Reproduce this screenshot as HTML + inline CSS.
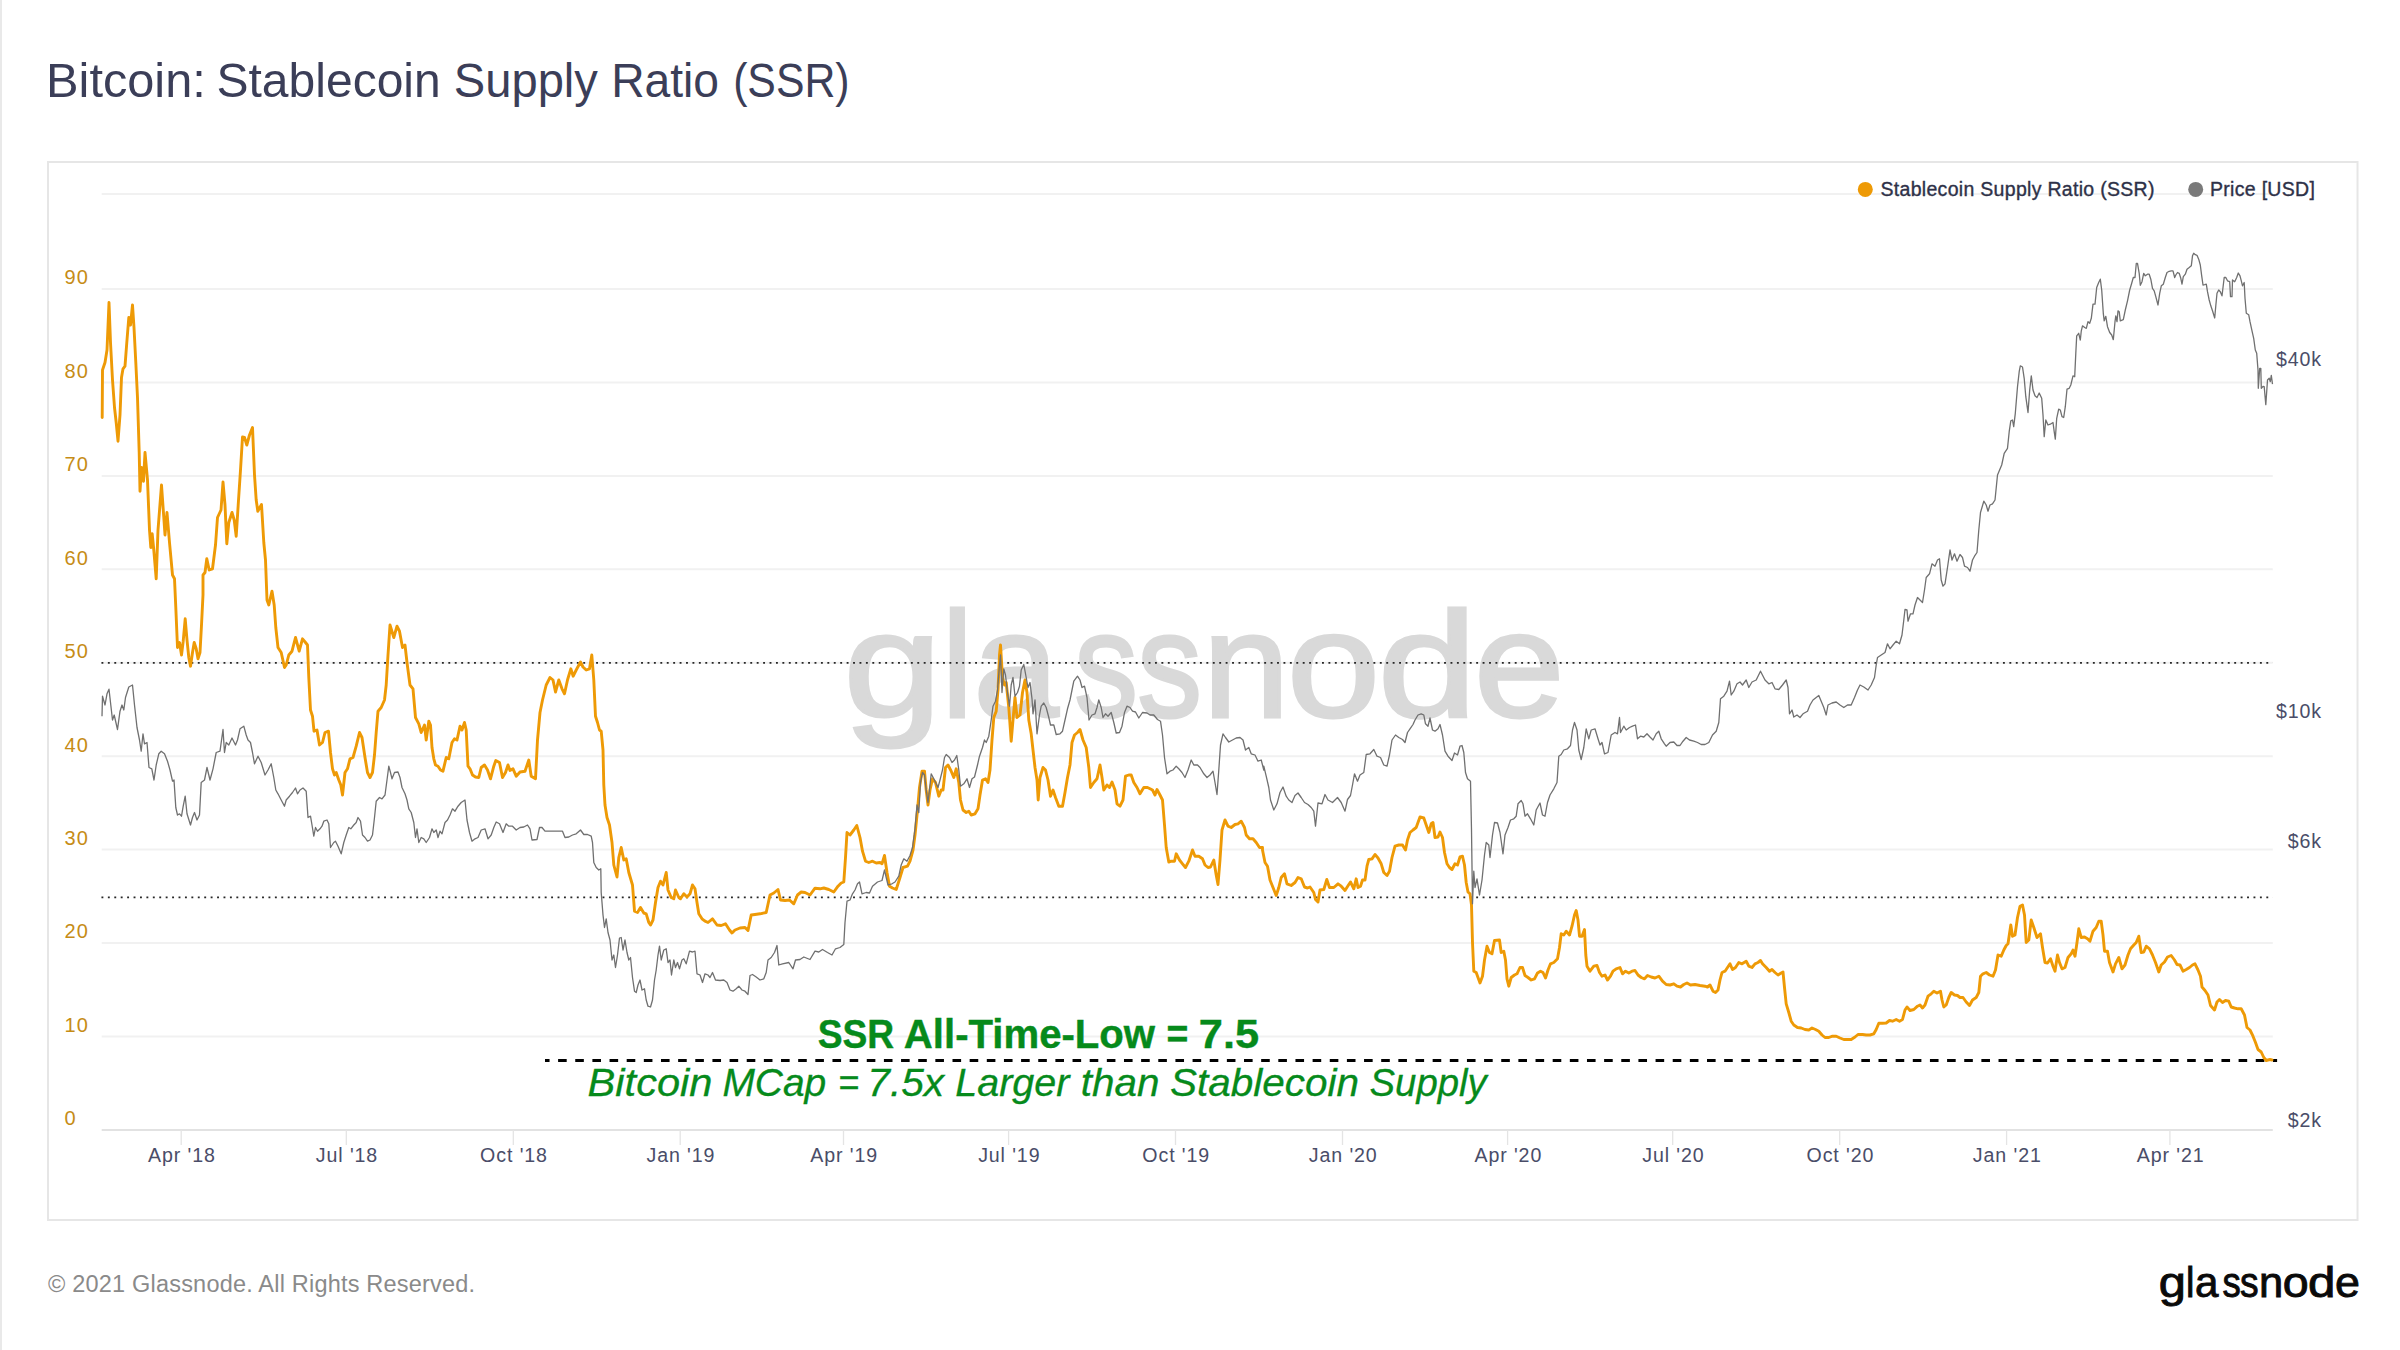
<!DOCTYPE html>
<html lang="en"><head><meta charset="utf-8"><title>Bitcoin: Stablecoin Supply Ratio (SSR)</title>
<style>
html,body{margin:0;padding:0;background:#fff;}
body{width:2400px;height:1350px;overflow:hidden;position:relative;font-family:"Liberation Sans", sans-serif;}
svg{position:absolute;left:0;top:0;display:block;}
text{font-family:"Liberation Sans", sans-serif;}
.ax{font-size:19.6px;fill:#4a4d68;letter-spacing:0.9px;}
.ly{font-size:20px;fill:#c68c16;letter-spacing:1.1px;}
.lg{font-size:19.5px;fill:#2e3148;stroke:#2e3148;stroke-width:0.35px;letter-spacing:0.3px;}
</style></head><body>
<svg width="2400" height="1350" viewBox="0 0 2400 1350">
<rect x="0" y="0" width="2400" height="1350" fill="#ffffff"/>
<rect x="0" y="0" width="2" height="1350" fill="#e9e9e9"/>
<text id="title" y="96.9" font-size="48.3" fill="#3b3e58"><tspan x="46.12" textLength="159.71" lengthAdjust="spacingAndGlyphs">Bitcoin:</tspan> <tspan x="216.51" textLength="224.22" lengthAdjust="spacingAndGlyphs">Stablecoin</tspan> <tspan x="453.8" textLength="144.07" lengthAdjust="spacingAndGlyphs">Supply</tspan> <tspan x="611.17" textLength="107.9" lengthAdjust="spacingAndGlyphs">Ratio</tspan> <tspan x="733.14" textLength="116.46" lengthAdjust="spacingAndGlyphs">(SSR)</tspan></text>
<rect x="48" y="162" width="2309.5" height="1058" fill="#ffffff" stroke="#e6e6e6" stroke-width="2"/>

<line x1="101.7" x2="2272.8" y1="1036.5" y2="1036.5" stroke="#f1f1f1" stroke-width="2"/>
<line x1="101.7" x2="2272.8" y1="943.1" y2="943.1" stroke="#f1f1f1" stroke-width="2"/>
<line x1="101.7" x2="2272.8" y1="849.6" y2="849.6" stroke="#f1f1f1" stroke-width="2"/>
<line x1="101.7" x2="2272.8" y1="756.2" y2="756.2" stroke="#f1f1f1" stroke-width="2"/>
<line x1="101.7" x2="2272.8" y1="662.8" y2="662.8" stroke="#f1f1f1" stroke-width="2"/>
<line x1="101.7" x2="2272.8" y1="569.3" y2="569.3" stroke="#f1f1f1" stroke-width="2"/>
<line x1="101.7" x2="2272.8" y1="475.9" y2="475.9" stroke="#f1f1f1" stroke-width="2"/>
<line x1="101.7" x2="2272.8" y1="382.4" y2="382.4" stroke="#f1f1f1" stroke-width="2"/>
<line x1="101.7" x2="2272.8" y1="289.0" y2="289.0" stroke="#f1f1f1" stroke-width="2"/>
<line x1="101.7" x2="2272.8" y1="193.9" y2="193.9" stroke="#f1f1f1" stroke-width="2"/>
<line x1="101.7" x2="2272.8" y1="1130.0" y2="1130.0" stroke="#e2e2e2" stroke-width="2"/>
<line x1="181.2" x2="181.2" y1="1130.0" y2="1145.0" stroke="#e4e4e4" stroke-width="1.3"/>
<text class="ax" x="181.9" y="1161.5" text-anchor="middle">Apr '18</text>
<line x1="346.3" x2="346.3" y1="1130.0" y2="1145.0" stroke="#e4e4e4" stroke-width="1.3"/>
<text class="ax" x="347.0" y="1161.5" text-anchor="middle">Jul '18</text>
<line x1="513.3" x2="513.3" y1="1130.0" y2="1145.0" stroke="#e4e4e4" stroke-width="1.3"/>
<text class="ax" x="514.0" y="1161.5" text-anchor="middle">Oct '18</text>
<line x1="680.2" x2="680.2" y1="1130.0" y2="1145.0" stroke="#e4e4e4" stroke-width="1.3"/>
<text class="ax" x="680.9" y="1161.5" text-anchor="middle">Jan '19</text>
<line x1="843.5" x2="843.5" y1="1130.0" y2="1145.0" stroke="#e4e4e4" stroke-width="1.3"/>
<text class="ax" x="844.2" y="1161.5" text-anchor="middle">Apr '19</text>
<line x1="1008.6" x2="1008.6" y1="1130.0" y2="1145.0" stroke="#e4e4e4" stroke-width="1.3"/>
<text class="ax" x="1009.3" y="1161.5" text-anchor="middle">Jul '19</text>
<line x1="1175.5" x2="1175.5" y1="1130.0" y2="1145.0" stroke="#e4e4e4" stroke-width="1.3"/>
<text class="ax" x="1176.2" y="1161.5" text-anchor="middle">Oct '19</text>
<line x1="1342.5" x2="1342.5" y1="1130.0" y2="1145.0" stroke="#e4e4e4" stroke-width="1.3"/>
<text class="ax" x="1343.2" y="1161.5" text-anchor="middle">Jan '20</text>
<line x1="1507.6" x2="1507.6" y1="1130.0" y2="1145.0" stroke="#e4e4e4" stroke-width="1.3"/>
<text class="ax" x="1508.3" y="1161.5" text-anchor="middle">Apr '20</text>
<line x1="1672.7" x2="1672.7" y1="1130.0" y2="1145.0" stroke="#e4e4e4" stroke-width="1.3"/>
<text class="ax" x="1673.4" y="1161.5" text-anchor="middle">Jul '20</text>
<line x1="1839.7" x2="1839.7" y1="1130.0" y2="1145.0" stroke="#e4e4e4" stroke-width="1.3"/>
<text class="ax" x="1840.4" y="1161.5" text-anchor="middle">Oct '20</text>
<line x1="2006.6" x2="2006.6" y1="1130.0" y2="1145.0" stroke="#e4e4e4" stroke-width="1.3"/>
<text class="ax" x="2007.3" y="1161.5" text-anchor="middle">Jan '21</text>
<line x1="2169.9" x2="2169.9" y1="1130.0" y2="1145.0" stroke="#e4e4e4" stroke-width="1.3"/>
<text class="ax" x="2170.6" y="1161.5" text-anchor="middle">Apr '21</text>
<text class="ly" x="64.5" y="1125.3">0</text>
<text class="ly" x="64.5" y="1031.8">10</text>
<text class="ly" x="64.5" y="938.4">20</text>
<text class="ly" x="64.5" y="844.9">30</text>
<text class="ly" x="64.5" y="751.5">40</text>
<text class="ly" x="64.5" y="658.0">50</text>
<text class="ly" x="64.5" y="564.6">60</text>
<text class="ly" x="64.5" y="471.2">70</text>
<text class="ly" x="64.5" y="377.7">80</text>
<text class="ly" x="64.5" y="284.3">90</text>
<text id="wm" y="716.5" font-size="150" fill="#d9d9d9" stroke="#d9d9d9" stroke-width="3"><tspan x="843.62" textLength="98.1" lengthAdjust="spacingAndGlyphs">g</tspan><tspan x="941.72" textLength="31.17" lengthAdjust="spacingAndGlyphs">l</tspan><tspan x="973.4" textLength="85.11" lengthAdjust="spacingAndGlyphs">a</tspan><tspan x="1074.2" textLength="63.7" lengthAdjust="spacingAndGlyphs">s</tspan><tspan x="1137.27" textLength="64.78" lengthAdjust="spacingAndGlyphs">s</tspan><tspan x="1202.79" textLength="86.68" lengthAdjust="spacingAndGlyphs">n</tspan><tspan x="1287.03" textLength="92.91" lengthAdjust="spacingAndGlyphs">o</tspan><tspan x="1377.76" textLength="99.05" lengthAdjust="spacingAndGlyphs">d</tspan><tspan x="1473.98" textLength="90.52" lengthAdjust="spacingAndGlyphs">e</tspan></text>
<text class="ax" x="2322" y="366.3" text-anchor="end">$40k</text>
<text class="ax" x="2322" y="718.2" text-anchor="end">$10k</text>
<text class="ax" x="2322" y="848.3" text-anchor="end">$6k</text>
<text class="ax" x="2322" y="1127.2" text-anchor="end">$2k</text>
<line x1="101.45" x2="2272.8" y1="662.9" y2="662.9" stroke="#262626" stroke-width="1.9" stroke-dasharray="1.9 4.524"/>
<line x1="101.45" x2="2272.8" y1="897.4" y2="897.4" stroke="#262626" stroke-width="1.9" stroke-dasharray="1.9 4.524"/>
<line x1="545" x2="2277.1" y1="1060.6" y2="1060.6" stroke="#000" stroke-width="3" stroke-dasharray="8.6 8.548" stroke-dashoffset="4.05"/>
<path d="M102.2,417.5 L102.5,370.0 L105.0,362.5 L107.0,350.0 L109.0,302.5 L110.5,342.5 L112.5,380.0 L114.5,407.5 L116.2,422.5 L118.0,441.2 L120.0,415.0 L121.5,377.5 L123.0,368.8 L125.0,366.2 L126.8,342.5 L128.8,317.5 L130.5,325.0 L132.5,305.0 L134.0,327.5 L135.8,362.5 L137.5,397.5 L139.2,452.5 L140.0,491.2 L141.5,467.5 L143.5,481.2 L145.0,452.5 L147.5,480.0 L149.5,530.0 L150.8,547.5 L152.2,533.8 L153.8,550.0 L156.2,578.8 L158.0,530.0 L161.5,485.0 L163.8,517.5 L165.0,535.0 L167.0,512.5 L169.5,542.5 L172.5,575.0 L174.5,578.8 L175.8,607.5 L177.5,647.5 L179.5,642.5 L181.5,655.0 L183.2,641.2 L185.2,618.8 L187.0,640.0 L188.8,657.5 L190.5,666.2 L192.5,652.5 L194.2,642.5 L196.2,648.8 L198.0,658.8 L200.0,652.5 L201.5,625.0 L203.0,595.0 L203.0,575.0 L205.0,572.5 L206.8,558.8 L209.2,570.0 L212.5,568.8 L215.5,545.0 L217.5,517.5 L221.0,510.0 L223.0,482.0 L225.0,505.0 L226.8,543.8 L228.8,522.5 L232.0,512.5 L234.2,520.0 L236.2,536.2 L238.2,505.0 L240.5,470.0 L242.5,437.0 L244.5,437.5 L246.8,445.0 L249.5,435.0 L252.5,427.5 L254.5,475.0 L256.2,500.0 L257.8,511.2 L261.5,504.5 L263.8,542.5 L265.5,560.0 L267.0,600.0 L268.8,605.0 L272.0,591.2 L274.2,605.0 L275.8,627.5 L278.0,647.5 L281.2,652.5 L284.5,667.5 L286.2,665.0 L288.8,655.0 L292.0,651.2 L295.5,637.5 L299.2,651.2 L302.5,638.8 L305.5,642.5 L307.5,645.0 L308.8,677.5 L310.5,710.0 L312.5,716.2 L314.0,731.2 L317.0,730.0 L319.5,745.0 L322.5,742.5 L325.0,732.5 L328.5,731.2 L330.5,752.5 L332.5,768.8 L334.5,775.0 L336.2,772.5 L338.8,780.0 L340.8,785.0 L342.5,795.0 L345.0,772.5 L347.5,768.8 L350.0,758.8 L353.0,757.5 L356.2,746.2 L359.5,732.5 L362.0,737.5 L365.0,757.5 L367.5,772.5 L370.0,777.5 L372.5,772.5 L374.5,755.0 L376.2,732.5 L378.0,711.2 L381.2,707.5 L384.5,700.0 L386.2,685.0 L388.0,655.0 L390.0,625.0 L393.8,637.5 L397.0,626.2 L399.5,631.2 L402.5,647.5 L405.0,645.0 L407.0,662.5 L410.0,685.0 L413.0,688.8 L415.5,717.5 L418.8,723.8 L421.2,732.5 L424.5,725.0 L426.2,740.0 L428.8,721.2 L430.5,725.0 L432.0,747.5 L433.8,758.8 L435.5,765.0 L438.0,766.2 L440.5,770.0 L443.0,771.2 L446.2,757.5 L448.8,758.8 L452.0,742.5 L454.5,738.8 L457.0,740.0 L460.0,726.2 L462.0,730.0 L464.5,722.5 L466.2,730.0 L468.0,766.2 L470.0,768.8 L472.5,775.0 L475.5,777.0 L478.8,777.5 L481.2,767.5 L484.5,765.0 L487.5,770.0 L490.5,778.8 L493.8,766.2 L495.8,760.5 L499.5,762.5 L502.5,777.5 L505.5,772.5 L508.0,765.0 L510.0,770.5 L513.0,768.8 L516.2,776.2 L520.0,772.0 L525.0,771.2 L528.8,760.0 L531.2,776.2 L535.5,778.8 L537.5,740.0 L540.0,712.5 L542.5,700.0 L546.2,685.0 L550.0,677.5 L553.0,680.0 L555.5,692.0 L558.8,680.0 L562.0,688.8 L564.5,693.8 L567.5,680.0 L570.8,668.8 L573.2,676.2 L576.2,670.0 L580.5,662.0 L583.0,667.0 L586.2,670.0 L589.5,668.8 L591.8,655.0 L593.8,680.0 L595.5,716.2 L597.5,722.5 L599.5,730.0 L601.2,731.2 L603.0,750.0 L603.8,785.0 L605.0,805.0 L607.0,817.5 L609.5,825.0 L612.0,842.5 L613.8,865.0 L617.0,877.0 L618.8,857.5 L621.2,847.5 L623.8,860.0 L626.2,858.8 L628.8,872.5 L632.5,885.0 L634.5,911.2 L637.5,912.5 L640.5,907.5 L643.8,913.0 L646.2,913.8 L648.8,922.5 L650.5,925.0 L653.0,920.0 L655.5,902.5 L658.0,887.5 L660.5,881.2 L663.0,885.0 L666.2,872.5 L668.0,890.0 L671.2,897.5 L673.8,898.8 L675.5,890.0 L678.8,897.5 L680.5,898.8 L683.8,893.8 L687.0,897.0 L690.0,893.8 L692.5,885.0 L695.0,888.8 L697.0,902.5 L698.8,913.8 L702.0,918.8 L705.0,921.2 L708.0,922.5 L712.5,918.8 L717.0,925.0 L721.2,925.5 L725.5,923.8 L729.5,930.0 L732.0,933.0 L735.0,930.0 L740.0,928.0 L745.0,927.5 L748.0,930.5 L751.2,915.0 L755.0,914.5 L760.0,913.8 L766.2,912.5 L770.0,895.0 L773.8,893.0 L778.0,889.5 L780.5,900.0 L785.0,900.5 L789.5,900.0 L793.8,903.8 L797.5,895.0 L801.2,892.0 L805.0,892.5 L810.0,895.0 L815.0,888.2 L820.0,888.8 L823.8,888.0 L828.8,889.5 L833.8,892.0 L838.0,886.2 L841.2,883.0 L843.8,882.0 L845.5,857.5 L847.0,832.5 L850.0,835.0 L853.8,830.0 L856.8,825.5 L860.0,837.5 L862.5,851.2 L865.5,861.2 L868.8,862.5 L872.5,861.2 L876.2,863.0 L880.0,862.5 L882.0,863.8 L884.5,855.5 L887.0,872.5 L889.5,886.2 L892.5,888.0 L896.2,889.5 L900.0,877.5 L903.0,867.5 L907.5,866.2 L910.0,861.2 L913.0,850.0 L915.0,835.0 L917.5,810.0 L919.5,787.5 L922.0,771.2 L924.5,771.2 L926.2,790.0 L928.0,805.0 L930.0,790.0 L932.5,778.8 L935.5,782.5 L938.8,796.2 L941.2,790.0 L943.0,790.0 L945.5,767.5 L948.0,765.0 L951.2,771.2 L953.8,777.5 L956.2,768.8 L958.8,782.5 L960.5,800.0 L963.0,810.0 L966.2,812.5 L968.8,811.2 L971.2,815.0 L975.0,813.8 L978.0,808.8 L980.0,795.0 L982.5,780.0 L985.5,778.8 L988.0,782.5 L990.0,770.0 L992.0,740.0 L993.8,717.5 L996.2,711.2 L998.0,690.0 L999.5,655.0 L1000.5,645.0 L1002.5,677.5 L1004.5,685.0 L1006.2,682.5 L1008.8,707.5 L1011.2,741.2 L1013.0,720.0 L1015.0,697.5 L1017.0,717.5 L1020.0,715.0 L1022.5,692.5 L1025.0,680.0 L1027.0,692.5 L1028.8,720.0 L1031.2,733.8 L1033.0,750.0 L1035.0,767.5 L1037.0,780.0 L1038.2,800.0 L1040.0,777.5 L1043.0,767.5 L1045.5,770.0 L1048.0,780.0 L1050.5,796.2 L1053.0,790.0 L1055.5,797.5 L1058.8,806.2 L1062.5,806.2 L1065.0,792.5 L1067.5,777.5 L1070.0,765.0 L1072.0,742.5 L1074.5,735.0 L1077.5,732.5 L1080.0,729.5 L1083.0,740.0 L1086.2,747.5 L1088.8,767.5 L1090.5,787.5 L1093.8,782.5 L1097.0,778.8 L1100.0,765.0 L1102.0,777.5 L1103.8,790.0 L1107.0,785.0 L1109.5,787.5 L1112.0,782.0 L1115.0,790.0 L1117.0,803.8 L1120.0,806.2 L1123.0,800.0 L1125.5,776.2 L1128.8,775.0 L1131.2,775.0 L1133.8,782.5 L1137.0,787.5 L1140.0,793.8 L1143.8,787.5 L1147.5,787.5 L1152.5,790.0 L1155.0,795.0 L1157.0,789.5 L1160.0,795.0 L1162.5,800.0 L1164.5,825.0 L1166.2,847.5 L1168.8,862.0 L1171.2,861.2 L1174.5,861.2 L1176.2,853.8 L1179.5,860.0 L1182.5,863.8 L1185.5,867.5 L1188.8,861.2 L1192.5,850.0 L1195.0,856.2 L1198.8,856.2 L1202.5,858.8 L1205.0,865.0 L1208.0,867.5 L1210.5,867.0 L1213.8,860.0 L1216.2,875.0 L1218.0,884.5 L1220.0,860.0 L1222.0,830.0 L1225.0,820.0 L1228.0,826.2 L1231.2,827.5 L1235.0,824.5 L1238.0,823.8 L1241.2,821.2 L1244.5,827.5 L1246.2,835.0 L1249.5,838.8 L1253.0,838.8 L1256.2,842.5 L1259.5,847.5 L1262.5,847.5 L1262.5,850.0 L1265.0,862.5 L1267.5,866.2 L1270.0,880.0 L1273.0,887.5 L1276.2,895.5 L1278.8,887.5 L1281.2,877.5 L1284.5,873.8 L1287.0,883.8 L1291.2,885.5 L1295.0,882.5 L1298.0,877.5 L1301.2,878.8 L1304.5,887.0 L1307.5,888.0 L1310.0,887.0 L1313.8,892.5 L1315.5,899.5 L1318.0,902.0 L1320.0,890.0 L1323.8,889.5 L1326.8,879.5 L1329.5,887.5 L1333.8,887.5 L1338.0,883.8 L1341.2,886.2 L1345.0,890.5 L1348.8,884.5 L1350.5,882.0 L1353.8,888.8 L1356.2,878.8 L1358.0,887.5 L1360.5,886.2 L1362.5,880.0 L1365.0,880.0 L1367.0,866.2 L1368.8,859.5 L1372.0,858.8 L1375.0,854.5 L1378.0,858.0 L1381.2,863.8 L1383.8,872.5 L1387.0,875.5 L1389.5,871.2 L1392.0,857.5 L1395.0,846.2 L1398.8,845.0 L1402.5,845.0 L1405.5,850.0 L1407.5,840.0 L1410.0,832.5 L1413.0,830.0 L1416.2,827.5 L1418.0,822.5 L1420.0,817.0 L1423.8,818.0 L1426.2,825.0 L1428.8,832.5 L1431.2,823.8 L1433.0,822.5 L1435.0,837.5 L1438.0,837.0 L1440.0,832.0 L1442.5,837.5 L1444.5,852.5 L1447.0,863.8 L1449.5,867.5 L1452.0,869.5 L1455.0,863.8 L1457.5,865.0 L1460.0,857.0 L1462.5,856.2 L1464.5,865.0 L1466.2,882.5 L1468.0,892.0 L1470.0,893.8 L1471.5,905.0 L1472.5,942.5 L1473.8,971.2 L1476.2,972.5 L1478.0,977.5 L1480.0,983.0 L1482.5,976.2 L1484.5,960.0 L1487.0,946.2 L1489.5,952.5 L1492.0,953.8 L1494.5,940.5 L1499.5,940.0 L1501.2,952.5 L1503.8,951.2 L1505.5,960.0 L1507.0,978.8 L1508.8,986.2 L1511.2,977.5 L1514.5,975.0 L1517.0,973.8 L1520.0,967.5 L1522.5,967.5 L1525.0,975.5 L1528.0,977.5 L1531.2,980.0 L1534.5,978.8 L1537.5,973.0 L1540.5,971.2 L1543.0,972.5 L1545.5,978.0 L1548.0,970.0 L1550.5,963.8 L1553.8,962.5 L1557.5,958.8 L1559.5,947.5 L1561.2,933.8 L1563.8,935.0 L1566.2,931.2 L1569.5,935.0 L1572.0,926.2 L1574.5,915.0 L1576.2,910.5 L1578.0,920.0 L1579.5,936.2 L1582.0,936.2 L1584.5,929.5 L1585.8,955.0 L1587.0,966.2 L1590.0,971.2 L1593.8,966.2 L1597.0,965.5 L1599.5,972.5 L1602.0,976.2 L1605.0,975.0 L1607.5,980.0 L1610.5,976.2 L1613.0,971.2 L1616.2,968.8 L1620.0,967.5 L1622.5,973.8 L1625.5,971.2 L1628.8,973.0 L1632.0,971.2 L1635.0,970.5 L1638.0,975.0 L1641.2,977.5 L1644.5,978.8 L1647.5,975.5 L1651.2,977.0 L1655.0,978.0 L1658.8,976.2 L1662.5,981.2 L1666.2,984.5 L1670.0,985.0 L1673.8,983.8 L1677.0,986.2 L1680.5,987.0 L1683.8,984.5 L1687.0,983.0 L1690.5,985.0 L1695.0,984.5 L1700.0,985.5 L1705.0,986.2 L1707.5,987.0 L1710.0,985.0 L1713.0,991.2 L1715.5,992.5 L1718.0,990.0 L1720.0,980.0 L1722.0,972.5 L1725.0,971.2 L1727.5,967.5 L1730.0,963.8 L1732.5,969.5 L1735.5,967.5 L1738.8,962.5 L1742.0,963.8 L1746.2,961.2 L1748.8,966.2 L1752.0,967.5 L1755.0,963.8 L1758.0,962.5 L1760.5,960.5 L1762.5,963.8 L1766.2,967.5 L1769.5,971.2 L1772.0,969.5 L1775.0,972.5 L1778.0,975.0 L1781.2,973.0 L1783.0,972.0 L1784.5,987.5 L1786.2,1003.8 L1788.8,1012.5 L1791.2,1021.2 L1793.8,1025.0 L1797.5,1027.5 L1801.2,1028.0 L1805.0,1029.5 L1808.8,1030.0 L1812.0,1028.0 L1815.5,1029.5 L1818.8,1031.2 L1822.0,1035.0 L1825.0,1037.5 L1828.8,1037.5 L1832.5,1036.2 L1836.2,1036.2 L1840.0,1038.0 L1843.8,1039.5 L1847.5,1039.5 L1851.2,1039.5 L1855.0,1037.0 L1858.0,1034.5 L1862.5,1034.5 L1866.2,1035.0 L1870.0,1035.0 L1873.8,1033.8 L1876.2,1029.5 L1878.8,1023.2 L1882.5,1023.2 L1886.2,1023.0 L1889.5,1020.5 L1892.5,1021.2 L1896.2,1019.5 L1899.5,1021.2 L1902.5,1019.5 L1905.0,1010.0 L1907.0,1007.0 L1910.0,1010.5 L1913.8,1009.5 L1917.5,1006.2 L1920.0,1005.0 L1922.5,1008.0 L1925.0,1005.0 L1928.0,996.2 L1931.2,993.8 L1933.8,991.2 L1937.0,993.0 L1940.5,991.2 L1942.0,1000.0 L1943.8,1007.0 L1946.2,1005.0 L1948.8,997.5 L1951.2,992.5 L1954.5,995.0 L1957.5,995.5 L1960.0,997.5 L1963.0,997.5 L1966.2,1002.0 L1969.5,1005.5 L1972.5,1000.0 L1976.2,997.5 L1978.8,992.5 L1980.5,976.2 L1983.0,973.8 L1986.2,972.5 L1989.5,975.0 L1993.0,976.2 L1995.5,970.0 L1998.0,955.0 L2001.2,956.2 L2003.8,950.0 L2006.2,945.5 L2008.0,943.8 L2010.8,925.0 L2012.5,936.2 L2015.0,935.0 L2017.5,917.5 L2020.0,906.2 L2022.5,905.0 L2024.5,915.0 L2026.2,942.5 L2028.8,940.0 L2031.2,920.0 L2033.8,927.5 L2037.0,937.5 L2040.5,933.8 L2042.5,947.5 L2045.0,962.5 L2047.5,963.0 L2050.5,958.8 L2053.0,966.2 L2055.0,971.2 L2057.5,955.0 L2059.5,962.5 L2062.0,968.8 L2065.0,967.5 L2068.0,957.5 L2071.2,953.8 L2073.0,950.0 L2075.0,956.2 L2077.0,942.5 L2078.8,928.8 L2081.2,937.5 L2084.5,937.0 L2087.5,938.8 L2090.0,941.2 L2093.0,931.2 L2096.2,927.5 L2098.8,921.2 L2101.2,921.2 L2103.0,935.0 L2104.5,951.2 L2107.5,951.2 L2109.5,962.5 L2113.0,972.0 L2115.5,963.8 L2118.8,957.5 L2122.0,968.8 L2125.0,965.0 L2128.0,955.0 L2130.5,948.8 L2133.8,945.0 L2136.2,942.5 L2138.8,936.2 L2141.2,952.5 L2143.8,952.0 L2146.2,946.2 L2149.5,948.8 L2152.5,955.0 L2155.5,962.5 L2158.8,972.0 L2161.2,965.0 L2164.5,962.0 L2167.5,957.0 L2171.2,955.5 L2174.5,960.0 L2177.0,964.5 L2180.0,965.0 L2183.0,971.2 L2186.2,969.5 L2189.5,967.5 L2192.5,965.0 L2195.0,963.8 L2198.0,970.0 L2200.5,976.2 L2202.0,987.0 L2205.0,990.5 L2208.0,995.0 L2210.5,1005.5 L2214.5,1010.0 L2217.0,1002.0 L2219.5,999.5 L2222.5,1002.5 L2225.5,1000.5 L2228.8,1001.2 L2231.2,1007.0 L2234.5,1008.0 L2238.0,1008.8 L2241.2,1008.8 L2244.5,1015.0 L2247.0,1027.5 L2250.0,1030.0 L2253.0,1036.2 L2255.5,1042.5 L2258.0,1049.5 L2261.2,1052.0 L2263.8,1057.5 L2266.2,1060.5 L2270.0,1059.5 L2272.0,1060.0" fill="none" stroke="#ee9a06" stroke-width="2.9" stroke-linejoin="round" stroke-linecap="round"/>
<path d="M102.0,716.2 L102.5,696.2 L105.0,705.0 L107.0,693.8 L109.0,689.2 L110.5,702.5 L112.5,720.0 L114.2,715.0 L117.5,729.5 L120.0,711.2 L122.0,705.0 L123.8,710.0 L125.5,697.5 L128.8,687.0 L132.5,685.0 L134.5,705.0 L137.0,727.5 L139.5,740.0 L141.2,751.2 L143.0,733.8 L144.5,743.8 L147.0,742.5 L149.0,767.5 L151.8,768.8 L154.0,780.0 L156.2,765.0 L158.8,753.8 L161.2,751.2 L164.5,753.8 L167.5,761.2 L170.0,770.0 L172.5,781.2 L174.0,780.0 L175.8,807.5 L177.5,815.0 L179.5,813.8 L181.5,816.2 L183.2,806.2 L185.2,796.2 L187.0,813.8 L190.5,825.0 L192.5,817.5 L194.5,812.5 L197.0,820.0 L199.5,815.0 L201.2,782.5 L204.5,780.0 L207.0,767.5 L210.0,780.0 L213.0,768.8 L216.2,752.5 L220.0,751.2 L223.0,729.5 L224.5,752.5 L226.2,742.5 L228.8,745.0 L232.0,738.0 L235.5,745.0 L237.5,740.0 L240.0,728.8 L243.8,726.2 L246.2,735.0 L248.0,740.0 L250.5,742.5 L252.5,752.5 L254.5,763.8 L258.0,756.2 L261.2,762.5 L265.0,775.0 L268.0,770.0 L271.2,763.8 L273.8,777.5 L275.8,790.0 L278.0,793.8 L281.2,800.0 L284.5,806.2 L286.2,800.0 L289.5,796.2 L292.5,792.5 L295.5,788.0 L297.5,793.8 L300.0,790.0 L303.0,788.0 L306.2,791.2 L308.0,817.5 L310.5,816.2 L312.0,825.0 L313.8,836.2 L315.5,827.5 L317.5,831.2 L320.0,828.8 L322.0,826.2 L323.8,821.2 L327.0,820.0 L328.8,823.8 L330.5,847.5 L333.8,842.5 L335.5,841.2 L338.0,846.2 L341.2,853.8 L343.8,842.5 L346.2,835.0 L348.8,827.5 L350.8,828.8 L353.8,825.0 L356.2,822.5 L358.0,817.5 L360.5,821.2 L362.5,835.0 L365.0,837.5 L367.5,841.2 L370.0,840.0 L372.5,835.0 L374.5,817.5 L376.2,801.2 L379.5,797.5 L382.0,798.8 L385.0,795.0 L387.0,780.0 L388.8,766.2 L390.5,772.5 L392.0,778.8 L394.5,772.5 L398.0,772.0 L400.0,777.5 L402.0,787.5 L405.0,793.8 L407.0,800.0 L408.8,808.8 L411.2,812.5 L413.8,822.5 L415.5,837.5 L417.0,828.8 L418.8,842.5 L421.2,837.5 L423.8,838.8 L426.2,842.5 L429.5,837.5 L432.0,828.8 L433.8,832.5 L436.2,830.0 L438.0,837.5 L440.0,831.2 L442.0,833.8 L445.0,822.5 L447.5,820.0 L450.0,815.0 L452.5,808.8 L455.0,811.2 L458.0,806.2 L461.2,802.5 L465.0,800.0 L467.0,820.0 L469.5,832.5 L472.0,841.2 L475.0,838.8 L478.0,837.5 L481.2,830.0 L485.0,828.8 L488.0,838.8 L491.2,835.0 L493.8,827.5 L496.2,822.0 L499.5,823.8 L503.0,832.5 L506.2,823.8 L508.8,826.2 L512.5,826.2 L516.2,830.0 L520.0,827.5 L523.8,827.0 L527.5,825.0 L530.0,828.8 L532.0,840.0 L537.0,839.5 L539.5,827.5 L542.0,827.5 L545.0,831.2 L550.0,831.2 L555.0,831.2 L562.5,831.2 L565.0,837.5 L568.8,837.0 L572.5,835.0 L576.2,833.8 L580.5,830.0 L583.8,834.5 L587.5,834.5 L591.2,836.2 L592.5,842.5 L593.8,862.5 L596.2,867.5 L598.8,870.0 L600.8,868.8 L601.2,892.5 L603.0,915.0 L604.5,927.5 L606.2,918.8 L608.0,932.5 L610.0,940.0 L612.0,960.0 L613.8,955.0 L615.5,967.5 L617.5,955.0 L619.5,938.0 L621.2,937.5 L623.0,950.0 L625.0,940.0 L627.0,952.5 L628.8,960.0 L630.5,957.5 L632.5,977.5 L634.5,991.2 L636.2,992.5 L638.0,985.0 L640.0,980.0 L642.0,990.0 L644.5,988.8 L646.2,1000.0 L648.0,1006.2 L650.5,1007.0 L652.5,1000.0 L654.5,980.0 L656.2,970.0 L658.0,955.0 L659.5,946.2 L661.2,960.0 L663.8,950.0 L666.2,948.8 L668.0,962.5 L670.0,960.0 L671.5,975.0 L673.8,960.0 L675.5,967.5 L677.5,962.5 L679.5,968.8 L682.0,960.0 L683.8,958.8 L686.2,963.8 L689.5,951.2 L692.5,952.0 L695.0,951.2 L697.0,973.8 L700.0,975.0 L702.5,982.5 L705.0,973.8 L708.0,975.0 L710.0,977.5 L712.5,972.5 L715.5,980.0 L720.0,980.5 L723.8,980.0 L727.0,982.5 L730.0,990.0 L733.0,991.2 L736.2,988.8 L738.8,986.2 L742.0,990.0 L745.0,991.2 L748.0,994.5 L750.0,975.5 L752.5,974.5 L756.2,977.0 L760.0,980.0 L763.8,978.8 L766.2,972.5 L768.0,960.0 L771.2,957.5 L774.5,952.5 L777.0,945.5 L778.8,965.0 L782.5,963.8 L788.8,962.5 L793.0,968.8 L795.5,960.0 L800.0,959.5 L803.8,957.0 L810.0,959.5 L815.0,951.2 L818.8,952.0 L822.5,949.5 L827.5,952.5 L832.0,955.0 L835.5,948.8 L840.0,947.5 L843.8,944.5 L845.0,922.5 L847.0,901.2 L850.0,900.0 L852.5,893.8 L855.0,890.0 L857.5,883.8 L859.5,882.0 L862.0,893.8 L866.2,892.5 L869.5,893.0 L872.5,886.2 L877.5,882.0 L882.0,880.5 L884.5,870.0 L886.2,877.5 L888.0,885.0 L892.0,883.8 L895.0,882.0 L898.8,876.2 L901.2,865.0 L903.8,858.8 L907.0,861.2 L910.0,855.5 L912.5,847.5 L915.0,828.8 L917.0,805.0 L918.8,812.5 L920.5,782.5 L922.5,772.5 L924.5,775.0 L926.2,790.0 L928.0,802.5 L930.0,785.0 L931.2,773.8 L933.8,778.8 L936.2,783.8 L938.0,787.5 L940.0,780.0 L942.5,770.0 L944.5,757.5 L946.2,754.5 L949.5,757.5 L952.0,762.5 L954.5,760.0 L956.8,755.5 L958.8,770.0 L960.5,786.2 L963.8,783.8 L967.0,778.8 L969.5,787.5 L972.0,778.8 L974.5,777.0 L977.5,765.0 L979.5,756.2 L982.5,747.5 L984.5,740.0 L986.2,742.5 L988.8,736.2 L991.2,720.0 L993.0,706.2 L995.5,701.2 L997.5,690.0 L999.5,665.0 L1000.5,655.0 L1002.0,692.5 L1003.8,668.8 L1005.5,675.0 L1007.5,692.5 L1009.5,706.2 L1011.2,685.0 L1013.0,677.5 L1015.0,696.2 L1017.5,692.5 L1019.5,686.2 L1021.2,670.0 L1023.8,664.5 L1026.2,677.5 L1028.0,687.5 L1030.0,682.5 L1032.0,698.8 L1033.0,713.8 L1035.0,700.0 L1037.0,733.8 L1039.5,715.0 L1041.2,706.2 L1043.8,703.0 L1046.2,707.5 L1048.8,717.5 L1050.5,725.0 L1053.8,725.0 L1056.2,734.5 L1060.0,733.8 L1062.5,731.2 L1065.0,720.0 L1067.5,708.8 L1070.0,700.0 L1072.0,690.0 L1073.8,681.2 L1077.5,676.2 L1080.0,680.0 L1082.0,687.5 L1084.5,686.2 L1087.0,697.5 L1089.0,720.0 L1092.0,715.0 L1095.0,713.8 L1097.0,707.5 L1098.8,700.0 L1101.2,707.5 L1103.0,717.5 L1105.5,713.8 L1108.0,716.2 L1111.2,712.5 L1113.8,722.5 L1116.2,733.0 L1119.5,732.5 L1122.0,726.2 L1124.5,712.5 L1127.0,706.2 L1130.0,707.5 L1132.5,711.2 L1135.5,712.0 L1138.8,718.0 L1142.5,712.5 L1147.0,713.0 L1150.0,715.0 L1153.8,715.0 L1157.5,719.5 L1160.5,721.2 L1162.5,735.0 L1164.5,757.5 L1167.0,773.8 L1170.0,771.2 L1173.0,770.0 L1176.2,766.2 L1178.8,768.8 L1182.0,772.5 L1185.0,777.5 L1188.0,770.0 L1191.2,760.0 L1193.8,765.0 L1197.5,765.0 L1200.0,767.5 L1203.8,773.8 L1207.0,777.5 L1210.0,775.0 L1213.0,771.2 L1215.0,782.5 L1217.0,794.5 L1218.8,770.0 L1220.5,745.0 L1223.0,733.8 L1225.5,737.5 L1228.8,742.0 L1232.5,740.0 L1236.2,738.0 L1240.0,737.5 L1243.0,740.0 L1245.5,750.0 L1248.8,747.5 L1251.2,753.8 L1255.0,755.0 L1258.0,761.2 L1261.2,760.0 L1263.8,770.0 L1263.8,766.2 L1266.2,776.2 L1268.8,787.5 L1270.5,800.0 L1273.8,810.0 L1277.0,803.8 L1280.0,792.5 L1283.0,787.0 L1286.2,796.2 L1288.8,800.0 L1292.0,802.5 L1295.0,795.5 L1298.0,793.0 L1301.2,797.5 L1304.5,802.5 L1308.0,804.5 L1311.2,807.5 L1313.8,811.2 L1315.5,826.2 L1318.0,803.0 L1322.0,803.8 L1325.0,794.5 L1328.0,800.0 L1332.5,802.5 L1337.5,797.5 L1341.2,802.5 L1345.0,811.2 L1347.5,799.5 L1350.5,795.5 L1352.5,785.0 L1354.5,773.8 L1357.5,781.2 L1360.0,775.0 L1363.8,772.5 L1366.2,754.5 L1370.0,753.8 L1373.8,749.5 L1377.0,756.2 L1380.5,757.5 L1383.8,765.0 L1387.0,766.2 L1389.5,755.0 L1392.0,740.0 L1395.5,735.0 L1398.8,737.5 L1402.5,739.5 L1405.0,742.5 L1407.5,732.5 L1410.0,728.8 L1413.0,724.5 L1415.0,720.0 L1418.0,715.0 L1421.2,713.8 L1423.8,715.0 L1425.5,723.8 L1428.0,726.2 L1430.0,718.0 L1432.5,730.0 L1435.0,731.2 L1438.0,728.8 L1440.0,724.5 L1442.5,735.0 L1445.0,751.2 L1448.0,756.2 L1452.0,760.5 L1454.5,753.0 L1457.5,755.0 L1460.0,746.2 L1462.0,745.5 L1463.8,752.5 L1465.5,772.5 L1467.5,778.8 L1470.5,781.2 L1471.5,830.0 L1472.5,903.8 L1473.8,871.2 L1475.0,887.5 L1477.0,878.8 L1479.5,895.0 L1482.0,880.0 L1484.5,855.0 L1486.2,842.5 L1488.8,845.0 L1490.0,857.5 L1492.5,835.0 L1494.5,822.5 L1497.5,823.0 L1500.0,832.5 L1503.0,853.8 L1505.0,835.0 L1508.0,827.5 L1510.5,820.0 L1513.8,818.8 L1516.2,816.2 L1518.0,803.8 L1521.2,800.5 L1523.0,803.8 L1525.0,816.2 L1527.5,813.8 L1530.5,818.8 L1533.8,825.0 L1536.2,810.0 L1540.0,803.0 L1542.5,815.0 L1545.0,816.2 L1547.5,802.5 L1550.0,795.0 L1553.8,788.8 L1557.0,782.5 L1558.8,756.2 L1561.2,754.5 L1563.8,750.0 L1567.5,748.8 L1570.5,745.5 L1572.5,730.0 L1574.5,722.5 L1577.0,730.0 L1578.8,750.0 L1581.2,759.5 L1583.8,747.5 L1586.2,728.8 L1588.8,738.8 L1591.2,730.0 L1595.0,728.8 L1598.0,738.8 L1600.0,745.0 L1602.0,742.5 L1604.5,753.8 L1608.0,752.5 L1611.2,735.0 L1615.0,732.5 L1617.5,733.8 L1619.5,717.5 L1620.5,732.5 L1623.8,726.2 L1626.2,730.0 L1629.5,727.5 L1632.5,726.2 L1635.5,725.0 L1637.5,738.8 L1640.5,736.2 L1643.8,737.0 L1647.0,733.8 L1650.0,737.0 L1653.0,740.0 L1656.2,733.8 L1658.8,731.2 L1661.2,738.8 L1664.5,743.8 L1666.2,746.2 L1670.0,742.5 L1673.8,742.0 L1677.0,745.5 L1680.0,745.5 L1683.0,741.2 L1686.2,737.5 L1689.5,740.0 L1693.8,741.2 L1697.5,742.5 L1701.2,744.5 L1705.0,744.5 L1708.8,742.5 L1712.5,735.0 L1716.2,731.2 L1718.8,722.5 L1720.5,698.8 L1723.8,696.2 L1727.0,691.2 L1729.5,681.2 L1731.2,695.0 L1733.8,691.2 L1737.0,683.8 L1740.0,682.0 L1742.5,685.0 L1746.2,680.0 L1748.8,687.5 L1752.0,682.0 L1756.2,680.0 L1760.5,671.2 L1765.0,680.0 L1768.8,683.8 L1772.0,682.5 L1775.0,688.8 L1778.8,689.5 L1782.5,685.0 L1786.2,680.0 L1788.0,687.5 L1789.5,713.8 L1792.0,710.0 L1793.8,717.0 L1797.0,715.0 L1800.0,717.5 L1803.0,713.8 L1807.5,711.2 L1810.0,705.0 L1813.0,700.0 L1816.2,697.5 L1818.8,695.5 L1821.2,701.2 L1823.8,707.5 L1826.2,715.0 L1828.0,705.0 L1832.0,703.0 L1836.2,702.0 L1840.0,705.0 L1843.8,707.5 L1847.5,705.0 L1851.2,705.0 L1854.5,697.5 L1857.5,690.0 L1860.0,685.0 L1863.8,687.0 L1868.0,690.0 L1871.2,685.0 L1874.5,677.5 L1876.2,665.0 L1877.5,657.5 L1881.2,655.0 L1885.0,652.5 L1887.5,643.8 L1890.0,648.8 L1893.0,645.0 L1896.2,641.2 L1899.5,643.8 L1902.0,635.0 L1903.8,620.0 L1905.0,609.5 L1907.0,610.0 L1908.0,621.2 L1910.5,613.8 L1913.0,613.8 L1915.0,605.0 L1917.5,597.5 L1920.0,600.0 L1922.5,602.5 L1924.5,590.0 L1926.2,577.5 L1929.5,573.8 L1932.0,563.8 L1935.0,566.2 L1937.5,560.0 L1939.5,558.8 L1941.2,580.0 L1943.0,586.2 L1945.0,583.8 L1947.5,567.5 L1950.0,550.0 L1952.0,560.0 L1954.5,553.8 L1957.0,561.2 L1960.0,554.5 L1962.5,557.5 L1964.5,566.2 L1967.5,567.5 L1970.0,571.2 L1972.5,560.0 L1974.5,556.2 L1977.0,552.5 L1978.8,530.0 L1980.5,512.5 L1983.8,501.2 L1986.2,505.0 L1988.0,511.2 L1990.0,505.0 L1992.5,503.8 L1995.0,500.0 L1997.5,475.0 L2001.7,465.0 L2004.2,453.3 L2007.5,448.3 L2009.2,431.7 L2010.8,420.8 L2012.5,420.0 L2013.7,426.7 L2015.3,413.3 L2017.5,386.7 L2019.2,371.7 L2020.3,365.8 L2022.5,367.0 L2024.2,378.3 L2025.8,396.7 L2028.0,412.5 L2029.7,390.0 L2031.3,375.8 L2033.0,390.0 L2035.0,395.8 L2037.0,397.5 L2039.2,393.0 L2041.7,398.3 L2043.0,415.0 L2044.2,436.7 L2045.8,420.0 L2048.0,425.0 L2050.3,424.2 L2053.0,422.5 L2054.2,431.7 L2055.3,439.2 L2056.7,418.3 L2058.7,409.2 L2060.3,410.0 L2062.0,416.7 L2063.7,417.5 L2065.3,406.7 L2067.0,389.2 L2069.2,388.3 L2070.8,385.0 L2073.0,375.8 L2074.7,376.7 L2075.8,353.3 L2076.7,335.8 L2078.7,333.3 L2080.3,340.0 L2081.3,330.8 L2082.5,325.8 L2084.7,327.5 L2086.3,328.3 L2088.0,321.7 L2089.7,323.3 L2091.3,318.3 L2093.0,304.2 L2095.0,304.2 L2096.7,287.5 L2098.7,282.5 L2100.3,279.2 L2101.7,290.0 L2103.3,313.3 L2104.2,320.8 L2105.8,316.3 L2107.5,326.7 L2109.7,332.5 L2111.7,335.0 L2113.3,339.7 L2115.0,321.7 L2115.8,315.8 L2117.0,321.7 L2118.0,310.8 L2119.2,311.7 L2120.3,320.8 L2123.3,319.7 L2125.3,310.0 L2127.5,300.8 L2129.7,290.0 L2131.7,283.3 L2133.3,277.5 L2135.0,277.5 L2136.3,263.3 L2137.5,263.3 L2139.2,273.3 L2140.3,285.3 L2142.0,281.7 L2143.7,273.3 L2145.3,275.8 L2147.5,274.2 L2149.2,274.2 L2150.8,279.2 L2152.5,288.3 L2154.2,290.8 L2155.8,296.7 L2158.0,305.0 L2159.7,293.3 L2161.3,285.8 L2163.3,284.2 L2165.3,277.5 L2167.0,272.5 L2169.2,271.3 L2171.3,270.8 L2173.0,270.8 L2174.7,277.5 L2175.8,275.0 L2177.5,272.5 L2179.2,273.3 L2180.8,278.3 L2182.0,284.2 L2183.3,276.7 L2185.3,274.2 L2187.0,269.2 L2189.2,267.5 L2191.3,265.8 L2192.5,255.8 L2193.7,253.3 L2195.3,254.7 L2197.0,255.3 L2198.7,259.2 L2200.3,265.0 L2201.7,275.8 L2203.0,285.0 L2204.7,284.7 L2206.3,284.2 L2207.5,291.7 L2209.2,300.0 L2210.8,305.8 L2212.5,310.8 L2214.7,318.0 L2215.8,305.8 L2217.0,293.3 L2218.7,290.0 L2220.3,291.7 L2222.0,295.8 L2223.3,285.0 L2224.2,277.5 L2225.8,277.5 L2227.5,280.8 L2229.7,281.7 L2230.5,296.7 L2232.0,296.7 L2232.5,280.0 L2234.7,281.7 L2236.7,277.5 L2238.3,273.0 L2240.0,275.8 L2241.3,280.8 L2242.5,285.8 L2244.2,282.5 L2245.0,298.3 L2246.3,313.3 L2248.7,314.7 L2250.0,321.7 L2252.0,330.8 L2253.7,338.3 L2255.3,350.0 L2256.7,353.3 L2258.0,370.0 L2258.3,388.3 L2259.7,368.3 L2260.8,368.3 L2261.3,388.3 L2263.0,386.3 L2264.2,386.7 L2265.8,404.7 L2267.5,380.0 L2269.2,378.3 L2270.3,381.7 L2271.3,375.3 L2272.5,384.2" fill="none" stroke="#707070" stroke-width="1.3" stroke-linejoin="round"/>
<text id="t1" y="1048.2" font-size="39.8" font-weight="bold" fill="#068a1b" stroke="#068a1b" stroke-width="0.4"><tspan x="817.67" textLength="76.52" lengthAdjust="spacingAndGlyphs">SSR</tspan> <tspan x="903.89" textLength="251.22" lengthAdjust="spacingAndGlyphs">All-Time-Low</tspan> <tspan x="1166.52" textLength="21.85" lengthAdjust="spacingAndGlyphs">=</tspan> <tspan x="1198.82" textLength="60.22" lengthAdjust="spacingAndGlyphs">7.5</tspan></text>
<text id="t2" y="1096" font-size="39.7" font-style="italic" fill="#068a1b" stroke="#068a1b" stroke-width="0.3"><tspan x="587.55" textLength="124.98" lengthAdjust="spacingAndGlyphs">Bitcoin</tspan> <tspan x="722.42" textLength="103.84" lengthAdjust="spacingAndGlyphs">MCap</tspan> <tspan x="837.88" textLength="21.1" lengthAdjust="spacingAndGlyphs">=</tspan> <tspan x="867.3" textLength="76.89" lengthAdjust="spacingAndGlyphs">7.5x</tspan> <tspan x="955.31" textLength="114.14" lengthAdjust="spacingAndGlyphs">Larger</tspan> <tspan x="1080.76" textLength="78.71" lengthAdjust="spacingAndGlyphs">than</tspan> <tspan x="1169.98" textLength="189.09" lengthAdjust="spacingAndGlyphs">Stablecoin</tspan> <tspan x="1369.53" textLength="117.18" lengthAdjust="spacingAndGlyphs">Supply</tspan></text>
<circle cx="1865.3" cy="189.4" r="7.5" fill="#ee9a06"/>
<text id="lg1" class="lg" x="1880.5" y="196.2">Stablecoin Supply Ratio (SSR)</text>
<circle cx="2195.7" cy="189.4" r="7.5" fill="#7a7a7a"/>
<text id="lg2" class="lg" x="2210" y="196.2">Price [USD]</text>
<text id="ft" x="48" y="1291.8" font-size="23.5" fill="#8a8a8a" style="letter-spacing:0.2px">© 2021 Glassnode. All Rights Reserved.</text>
<text id="logo" y="1297.2" font-size="42.5" fill="#0a0a0a" stroke="#0a0a0a" stroke-width="0.9"><tspan x="2158.85" textLength="27.17" lengthAdjust="spacingAndGlyphs">g</tspan><tspan x="2186.07" textLength="8.41" lengthAdjust="spacingAndGlyphs">l</tspan><tspan x="2195.05" textLength="23.44" lengthAdjust="spacingAndGlyphs">a</tspan><tspan x="2222.39" textLength="18.31" lengthAdjust="spacingAndGlyphs">s</tspan><tspan x="2240.0" textLength="18.62" lengthAdjust="spacingAndGlyphs">s</tspan><tspan x="2258.97" textLength="24.19" lengthAdjust="spacingAndGlyphs">n</tspan><tspan x="2282.69" textLength="25.91" lengthAdjust="spacingAndGlyphs">o</tspan><tspan x="2308.08" textLength="27.45" lengthAdjust="spacingAndGlyphs">d</tspan><tspan x="2334.93" textLength="24.9" lengthAdjust="spacingAndGlyphs">e</tspan></text>
</svg></body></html>
